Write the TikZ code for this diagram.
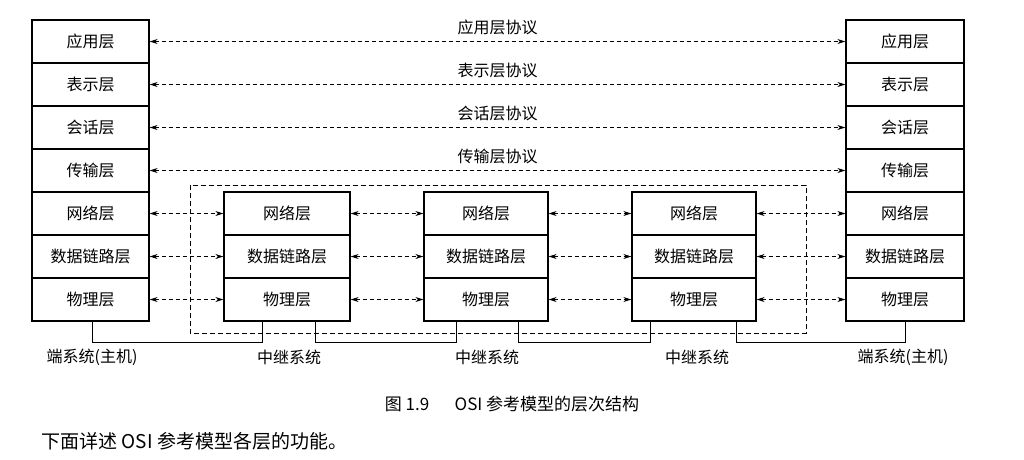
\documentclass[tikz,border=0pt]{standalone}
\usepackage{fontspec}
\setmainfont{Noto Sans CJK SC}
\usetikzlibrary{arrows.meta}
\begin{document}
\begin{tikzpicture}[x=1pt,y=-1pt,
  lay/.style={draw,line width=1.3pt,minimum height=43pt,inner sep=0pt,font=\fontsize{16}{18}\selectfont},
  peer/.style={line width=0.9pt,dash pattern=on 4pt off 3pt,{Stealth[length=8pt,width=5pt]}-{Stealth[length=8pt,width=5pt]}},
  lbl/.style={font=\fontsize{16}{18}\selectfont}]
\useasboundingbox (0,0) rectangle (1024,459);
\def\names{应用层,表示层,会话层,传输层,网络层,数据链路层,物理层}
\foreach \n [count=\i] in \names {
  \node[lay,minimum width=117pt] (L\i) at (90.5,{20+43*(\i-0.5)}) {\n};
  \node[lay,minimum width=118pt] (R\i) at (905,{20+43*(\i-0.5)}) {\n};
}
\foreach \n [count=\i from 5] in {网络层,数据链路层,物理层} {
  \node[lay,minimum width=126pt] (A\i) at (287,{20+43*(\i-0.5)}) {\n};
  \node[lay,minimum width=124pt] (B\i) at (486,{20+43*(\i-0.5)}) {\n};
  \node[lay,minimum width=124pt] (C\i) at (694,{20+43*(\i-0.5)}) {\n};
  \draw[peer] (L\i) -- (A\i);
  \draw[peer] (A\i) -- (B\i);
  \draw[peer] (B\i) -- (C\i);
  \draw[peer] (C\i) -- (R\i);
}
\foreach \n [count=\i] in {应用层协议,表示层协议,会话层协议,传输层协议} {
  \draw[peer] (L\i) -- (R\i) node[lbl,midway,above=3pt] {\n};
}
\draw[line width=0.9pt,dash pattern=on 5pt off 3pt] (190,185) rectangle (806,333);
\draw[line width=0.9pt] (L7.south -| 92,0) -- (92,342) -| (A7.south -| 262,0);
\draw[line width=0.9pt] (A7.south -| 315,0) -- (315,342) -| (B7.south -| 456,0);
\draw[line width=0.9pt] (B7.south -| 518,0) -- (518,342) -| (C7.south -| 650,0);
\draw[line width=0.9pt] (C7.south -| 736,0) -- (736,342) -| (R7.south -| 905,0);
\node[lbl] (t1) at (92,357) {端系统(主机)};
\node[lbl] (t2) at (289,357) {中继系统};
\node[lbl] (t3) at (487,357) {中继系统};
\node[lbl] (t4) at (697,357) {中继系统};
\node[lbl] (t5) at (903,357) {端系统(主机)};
\node[lbl,font=\fontsize{17}{19}\selectfont] (cap) at (512,404) {图 1.9\hspace{1.5em}OSI 参考模型的层次结构};
\node[lbl,anchor=west,font=\fontsize{19}{21}\selectfont] (txt) at (38,441) {下面详述 OSI 参考模型各层的功能。};
\end{tikzpicture}
\end{document}
